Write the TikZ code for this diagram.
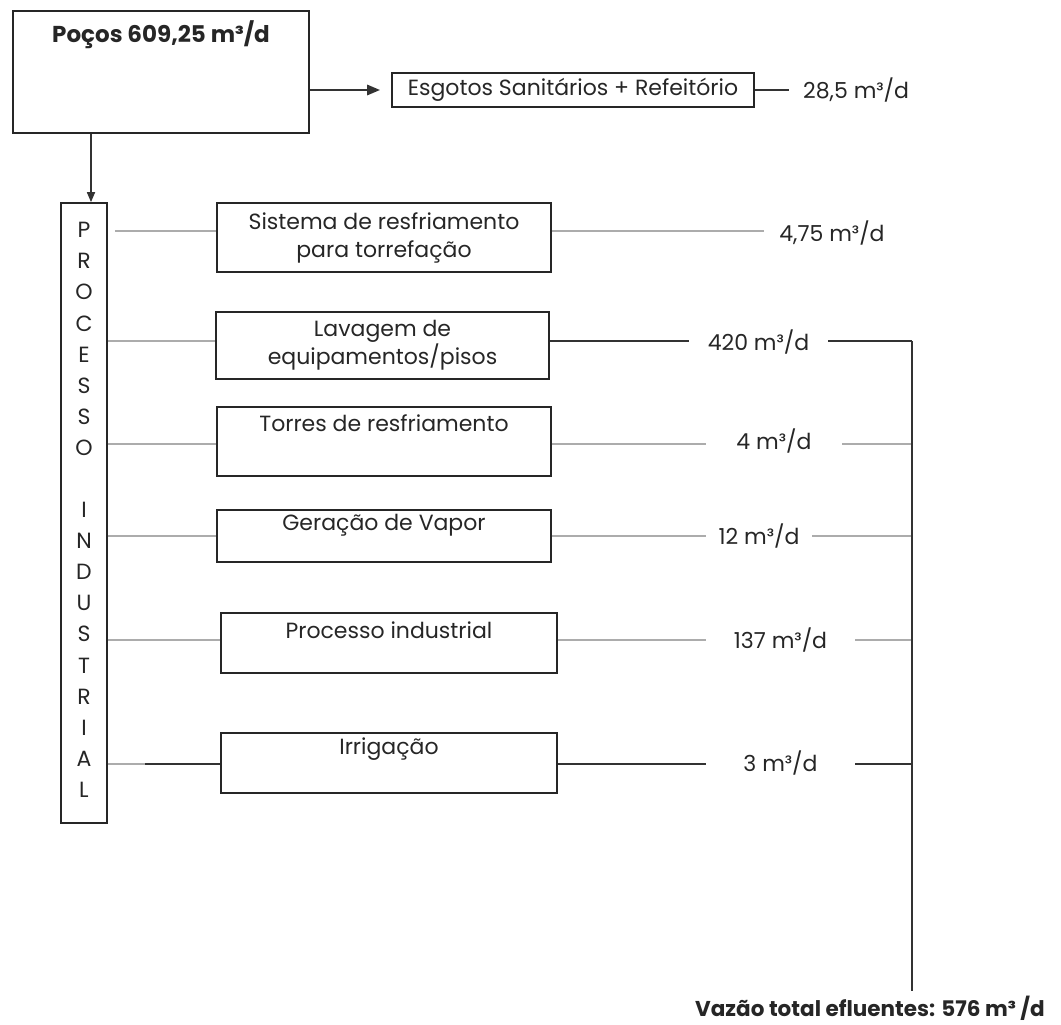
\documentclass[tikz,border=0pt]{standalone}
\usepackage{fontspec}
\setmainfont{Poppins}
\usetikzlibrary{arrows.meta,positioning,calc}

\begin{document}
\begin{tikzpicture}[x=1pt, y=-1pt,
  every node/.style={font=\fontsize{22}{28}\selectfont, text=black!85},
  caixa/.style={draw=black!85, line width=1.6pt, inner sep=0pt},
  negrito/.style={font=\bfseries\fontsize{21.5}{26}\selectfont},
  vazao/.style={inner sep=0pt, minimum height=20pt},
  cinza/.style={draw=gray!65, line width=2.4pt},
  escura/.style={draw=black!80, line width=1.6pt}]
  \useasboundingbox (0,0) rectangle (1061,1025);

  % fontes de agua
  \node[caixa, minimum width=296pt, minimum height=122pt] (pocos) at (161,72) {};
  \node[negrito, font=\bfseries\fontsize{23}{28}\selectfont] (tpocos) at (161,35) {Poços 609,25 m³/d};
  \node[caixa, minimum width=362pt, minimum height=34pt] (esg) at (573,90) {Esgotos Sanitários + Refeitório};
  \node[anchor=west, inner xsep=0pt] (v0) at (803,90) {28,5 m³/d};
  \draw[escura, line width=2.8pt, -{Triangle[length=13pt,width=10pt]}, shorten >=11pt] (pocos.east |- esg) -- (esg.west);
  \draw[escura] (esg.east) -- ($(v0.west)+(-14,0)$);

  % processo industrial
  \node[caixa, minimum width=46pt, minimum height=620pt] (proc) at (84,513) {};
  \foreach \l [count=\i from 0] in {P,R,O,C,E,S,S,O,{},I,N,D,U,S,T,R,I,A,L}
    \node (letra\i) at (84,230+31.1*\i) {\l};
  \coordinate (desce) at (91,0);
  \draw[escura, -{Triangle[length=10pt,width=8pt]}] (pocos.south -| desce) -- (proc.north -| desce);

  % linhas de cada uso
  \coordinate (r1) at (0,231);
  \coordinate (r2) at (0,341);
  \coordinate (r3) at (0,444);
  \coordinate (r4) at (0,536);
  \coordinate (r5) at (0,640);
  \coordinate (r6) at (0,764);
  \coordinate (bus) at (912,0);
  \coordinate (quebra) at (145,764);

  \node[caixa, minimum width=334pt, minimum height=69pt, align=center] (sis) at (384,237.5) {Sistema de resfriamento\\para torrefação};
  \node[caixa, minimum width=333pt, minimum height=67pt, align=center] (lav) at (382.5,345.5) {Lavagem de\\equipamentos/pisos};
  \node[caixa, minimum width=334pt, minimum height=69pt] (tor) at (384,441.5) {};
  \node (ttor) at ($(tor.north)+(0,17)$) {Torres de resfriamento};
  \node[caixa, minimum width=334pt, minimum height=52pt] (ger) at (384,536) {};
  \node (tger) at ($(ger.north)+(0,16)$) {Geração de Vapor};
  \node[caixa, minimum width=336pt, minimum height=60pt] (pin) at (389,643) {};
  \node (tpin) at ($(pin.north)+(0,18)$) {Processo industrial};
  \node[caixa, minimum width=336pt, minimum height=60pt] (irr) at (389,763) {};
  \node (tirr) at ($(irr.north)+(0,17)$) {Irrigação};

  \node[vazao, minimum width=136pt] (v1) at (832,233) {4,75 m³/d};
  \node[vazao, minimum width=139pt] (v2) at (758.5,342) {420 m³/d};
  \node[vazao, minimum width=136pt] (v3) at (774,441) {4 m³/d};
  \node[vazao, minimum width=106pt] (v4) at (759,536) {12 m³/d};
  \node[vazao, minimum width=149pt] (v5) at (780.5,640) {137 m³/d};
  \node[vazao, minimum width=149pt] (v6) at (780.5,763) {3 m³/d};

  \draw[cinza] ($(proc.east |- r1)+(7,0)$) -- (sis.west |- r1);
  \draw[cinza] (proc.east |- r2) -- (lav.west |- r2);
  \draw[cinza] (proc.east |- r3) -- (tor.west |- r3);
  \draw[cinza] (proc.east |- r4) -- (ger.west |- r4);
  \draw[cinza] (proc.east |- r5) -- (pin.west |- r5);
  \draw[cinza] (proc.east |- r6) -- (quebra);
  \draw[escura] (quebra) -- (irr.west |- r6);

  \draw[cinza] (sis.east |- r1) -- (v1.west |- r1);
  \draw[escura] (lav.east |- r2) -- (v2.west |- r2);
  \draw[cinza] (tor.east |- r3) -- (v3.west |- r3);
  \draw[cinza] (ger.east |- r4) -- (v4.west |- r4);
  \draw[cinza] (pin.east |- r5) -- (v5.west |- r5);
  \draw[escura] (irr.east |- r6) -- (v6.west |- r6);

  \draw[escura] (v2.east |- r2) -- (bus |- r2);
  \draw[cinza] (v3.east |- r3) -- (bus |- r3);
  \draw[cinza] (v4.east |- r4) -- (bus |- r4);
  \draw[cinza] (v5.east |- r5) -- (bus |- r5);
  \draw[escura] (v6.east |- r6) -- (bus |- r6);

  % vazao total
  \node[negrito] (total) at (870,1008) {Vazão total efluentes: 576 m³ /d};
  \draw[escura] (bus |- r2) -- ($(bus |- total.north)+(0,-1)$);
\end{tikzpicture}
\end{document}
